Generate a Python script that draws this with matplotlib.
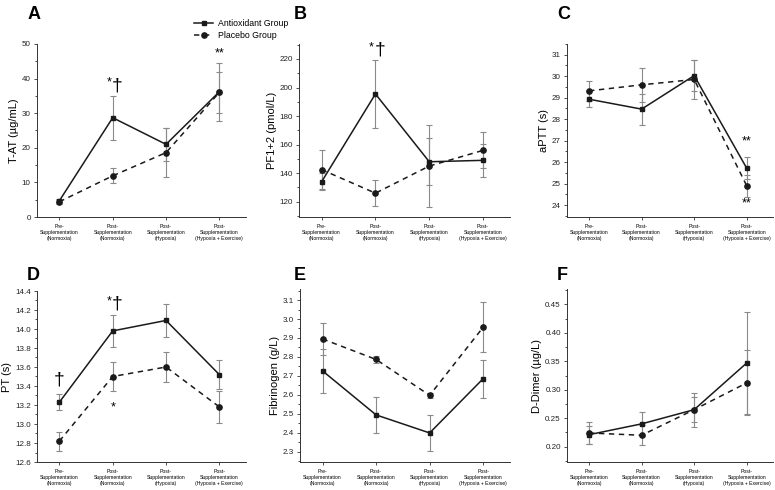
import numpy as np
import matplotlib
matplotlib.use('Agg')
import matplotlib.pyplot as plt
from matplotlib.ticker import AutoMinorLocator

plt.rcParams['font.family'] = ['Liberation Sans', 'DejaVu Sans']

# categories (x-axis)
stages = ['Pre-\nSupplementation\n(Normoxia)',
          'Post-\nSupplementation\n(Normoxia)',
          'Post-\nSupplementation\n(Hypoxia)',
          'Post-\nSupplementation\n(Hypoxia + Exercise)']

# A: T-AT
tat_anti = [4.7, 28.7, 21.0, 36.2]
tat_anti_err = [0.5, 6.4, 4.8, 8.4]
tat_plac = [4.4, 11.9, 18.6, 36.0]
tat_plac_err = [0.5, 2.2, 7.0, 6.0]

# B: PF1+2
pf_anti = [134, 195.5, 148, 149]
pf_anti_err = [6, 24, 16.5, 11.5]
pf_plac = [142.5, 126, 145, 156]
pf_plac_err = [13.5, 9, 29, 12.5]

# C: aPTT
aptt_anti = [28.93, 28.47, 30.03, 25.72]
aptt_anti_err = [0.38, 0.72, 0.72, 0.5]
aptt_plac = [29.32, 29.6, 29.85, 24.9]
aptt_plac_err = [0.45, 0.8, 0.9, 0.5]

# D: PT
pt_anti = [13.23, 13.98, 14.09, 13.52]
pt_anti_err = [0.085, 0.17, 0.175, 0.15]
pt_plac = [12.82, 13.50, 13.60, 13.18]
pt_plac_err = [0.10, 0.15, 0.16, 0.17]

# E: Fibrinogen
fib_anti = [2.727, 2.495, 2.400, 2.686]
fib_anti_err = [0.117, 0.095, 0.096, 0.10]
fib_plac = [2.895, 2.787, 2.598, 2.957]
fib_plac_err = [0.083, 0.018, 0.012, 0.133]

# F: D-Dimer
dd_anti = [0.221, 0.240, 0.265, 0.347]
dd_anti_err = [0.016, 0.021, 0.030, 0.090]
dd_plac = [0.224, 0.220, 0.265, 0.312]
dd_plac_err = [0.020, 0.018, 0.022, 0.057]

W, H = 775, 490
fig = plt.figure(figsize=(7.75, 4.9), dpi=100)


def make_ax(left, top, width, height):
    return fig.add_axes([left / W, 1 - (top + height) / H, width / W, height / H])


def panel(ax, anti, anti_err, plac, plac_err, ylim, yticks, ylabel, fmt):
    x = np.arange(len(stages))
    ax.errorbar(x, plac, yerr=plac_err, fmt='none', ecolor='#8a8a8a',
                elinewidth=0.8, capsize=2.0, capthick=0.8, zorder=1)
    ax.errorbar(x, anti, yerr=anti_err, fmt='none', ecolor='#8a8a8a',
                elinewidth=0.8, capsize=2.0, capthick=0.8, zorder=1)
    ax.plot(x, anti, '-', color='#1a1a1a', lw=1.1, marker='s', ms=3.5,
            label='Antioxidant Group', zorder=3)
    ax.plot(x, plac, '--', color='#1a1a1a', lw=1.1, marker='o', ms=3.8,
            dashes=(3.5, 3), label='Placebo Group', zorder=3)
    ax.set_xlim(-0.42, 3.5)
    ax.set_ylim(*ylim)
    ax.set_yticks(yticks)
    ax.set_yticklabels([fmt.format(t) for t in yticks])
    ax.yaxis.set_minor_locator(AutoMinorLocator(2))
    ax.set_xticks(x)
    ax.set_xticklabels(stages, fontsize=3.7, linespacing=1.3)
    ax.tick_params(axis='y', labelsize=5.8, length=2.5, width=0.6, pad=2,
                   color='#333333', labelcolor='#222222')
    ax.tick_params(axis='y', which='minor', length=1.5, width=0.5)
    ax.tick_params(axis='x', length=2, width=0.6, pad=3, color='#333333')
    ax.set_ylabel(ylabel, fontsize=8, labelpad=2)
    for s in ['top', 'right']:
        ax.spines[s].set_visible(False)
    for s in ['left', 'bottom']:
        ax.spines[s].set_linewidth(0.7)
        ax.spines[s].set_color('#333333')
    return ax


def letter(x, y, txt):
    fig.text(x / W, 1 - y / H, txt, fontsize=13, fontweight='bold',
             ha='left', va='top')


def dagger_star(ax, x, y):
    ax.text(x - 0.03, y + (ax.get_ylim()[1] - ax.get_ylim()[0]) * 0.015, '*',
            fontsize=9, ha='right', va='center')
    ax.text(x - 0.02, y, '\u2020', fontsize=14, ha='left', va='center')


axA = panel(make_ax(37, 44, 209, 173), tat_anti, tat_anti_err, tat_plac, tat_plac_err,
            (0, 50), [0, 10, 20, 30, 40, 50], 'T-AT (\u00b5g/mL)', '{:.0f}')
dagger_star(axA, 1, 38)
axA.text(3, 47.3, '**', fontsize=9, ha='center', va='center')

axB = panel(make_ax(299, 44, 211, 173), pf_anti, pf_anti_err, pf_plac, pf_plac_err,
            (109.3, 230.5), [120, 140, 160, 180, 200, 220], 'PF1+2 (pmol/L)', '{:.0f}')
dagger_star(axB, 1, 226)

axC = panel(make_ax(567, 44, 206, 173), aptt_anti, aptt_anti_err, aptt_plac, aptt_plac_err,
            (23.45, 31.5), [24, 25, 26, 27, 28, 29, 30, 31], 'aPTT (s)', '{:.0f}')
axC.text(3, 26.95, '**', fontsize=9, ha='center', va='center')
axC.text(3, 24.1, '**', fontsize=9, ha='center', va='center')

axD = panel(make_ax(37, 291, 209, 171), pt_anti, pt_anti_err, pt_plac, pt_plac_err,
            (12.6, 14.4), [12.6, 12.8, 13.0, 13.2, 13.4, 13.6, 13.8, 14.0, 14.2, 14.4],
            'PT (s)', '{:.1f}')
axD.text(0, 13.46, '\u2020', fontsize=14, ha='center', va='center')
dagger_star(axD, 1, 14.26)
axD.text(1, 13.17, '*', fontsize=9, ha='center', va='center')

axE = panel(make_ax(300, 289, 210, 173), fib_anti, fib_anti_err, fib_plac, fib_plac_err,
            (2.247, 3.158), [2.3, 2.4, 2.5, 2.6, 2.7, 2.8, 2.9, 3.0, 3.1],
            'Fibrinogen (g/L)', '{:.1f}')

axF = panel(make_ax(567, 289, 206, 173), dd_anti, dd_anti_err, dd_plac, dd_plac_err,
            (0.173, 0.477), [0.20, 0.25, 0.30, 0.35, 0.40, 0.45],
            'D-Dimer (\u00b5g/L)', '{:.2f}')

letter(28, 6, 'A')
letter(294, 6, 'B')
letter(557, 6, 'C')
letter(27, 267, 'D')
letter(294, 267, 'E')
letter(557, 267, 'F')

handles, labels = axA.get_legend_handles_labels()
fig.legend(handles, labels, loc='upper left', bbox_to_anchor=(194 / W, 1 - 19 / H),
           frameon=False, fontsize=6.3, handlelength=2.2, labelspacing=0.38,
           handletextpad=0.5, borderpad=0, borderaxespad=0)

fig.savefig('out.png', dpi=100)
